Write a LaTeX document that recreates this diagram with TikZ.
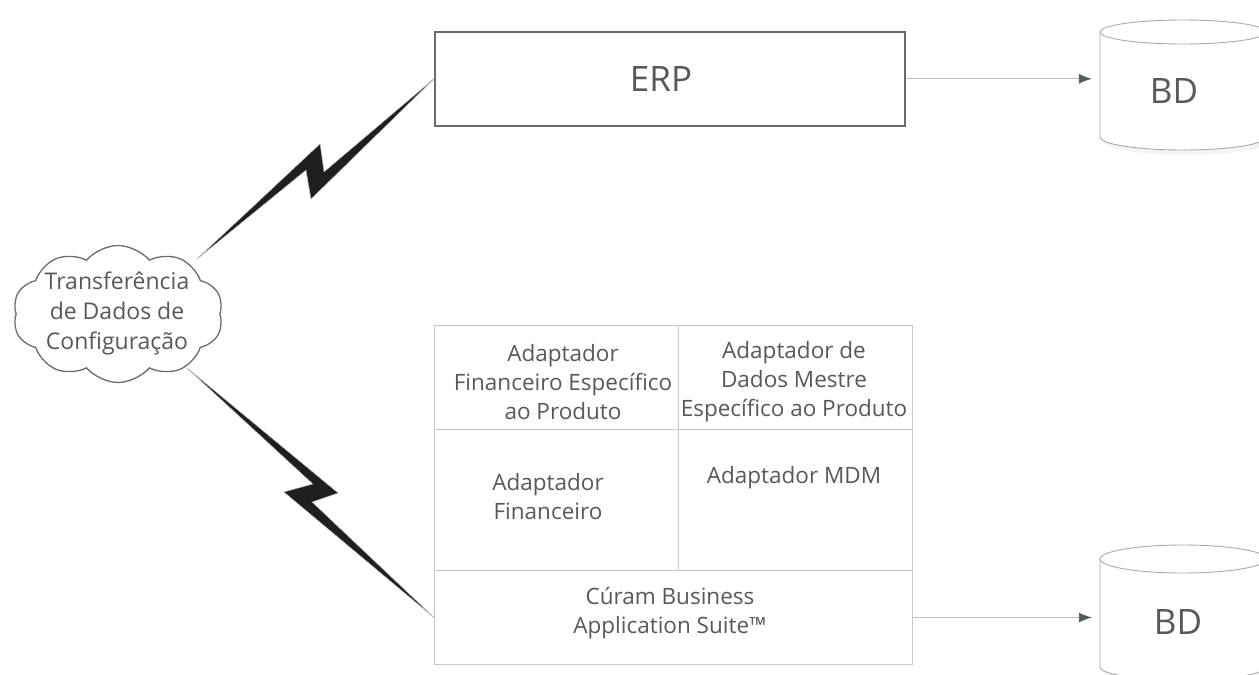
\documentclass[tikz,border=0pt]{standalone}
\usepackage{fontspec}
\setmainfont{Open Sans}
\usetikzlibrary{shapes.symbols,arrows.meta}
\definecolor{txt}{RGB}{86,89,93}
\definecolor{edge}{RGB}{105,108,112}
\definecolor{gridc}{RGB}{200,200,200}
\definecolor{arr}{RGB}{190,190,190}
\definecolor{head}{RGB}{85,90,95}
\definecolor{boltc}{RGB}{32,30,32}
\definecolor{cyl}{RGB}{170,170,170}
\begin{document}
\begin{tikzpicture}[x=1pt,y=-1pt,
  lbl/.style={text=txt, align=center, font=\fontsize{22.5}{29}\selectfont, inner sep=0},
  cloudlbl/.style={text=txt, align=center, font=\fontsize{23}{30}\selectfont, inner sep=0},
  big/.style={text=txt, font=\fontsize{35}{40}\selectfont, inner sep=0},
  cellbox/.style={draw=gridc, line width=1pt, anchor=north west, inner sep=0},
  erpbox/.style={draw=edge, line width=1.6pt, anchor=north west, inner sep=0},
  cylline/.style={draw=cyl, line width=0.9pt, fill=white},
  cylshadow/.style={fill=black, opacity=0.045},
  flow/.style={draw=arr, line width=0.9pt, -{Latex[length=13pt,width=10pt,color=head]}},
  boltfill/.style={fill=boltc, draw=gray!60, line width=0.4pt, line join=miter}
]
\useasboundingbox (0,0) rectangle (1259,675);
\fill[white] (0,0) rectangle (1259,675);

% cloud
\node[cloud, draw=edge, line width=1.3pt, cloud puffs=10, cloud puff arc=100, aspect=1.55,
      minimum width=210pt, minimum height=137pt, inner sep=0] (cl) at (118,314) {};
\node[cloudlbl] (cltxt) at (117,313) {Transferência\\de Dados de\\Configuração};

% ERP
\node[erpbox, minimum width=470pt, minimum height=94pt] (erp) at (434,31) {};
\node[big] (erptxt) at (661,79) {ERP};

% grid cells
\node[cellbox, minimum width=244pt, minimum height=104pt] (c1) at (434,325) {};
\node[cellbox, minimum width=234pt, minimum height=104pt] (c2) at (678,325) {};
\node[cellbox, minimum width=244pt, minimum height=141pt] (c3) at (434,429) {};
\node[cellbox, minimum width=234pt, minimum height=141pt] (c4) at (678,429) {};
\node[cellbox, minimum width=478pt, minimum height=94pt] (c5) at (434,570) {};

\node[lbl] (t1) at (563,382) {Adaptador\\Financeiro Específico\\ao Produto};
\node[lbl] (t2) at (794,382) {Adaptador de\\Dados Mestre\\Específico ao Produto};
\node[lbl] (t3) at (548,497) {Adaptador\\Financeiro};
\node[lbl] (t4) at (794,478) {Adaptador MDM};
\node[lbl] (t5) at (670,613) {Cúram Business\\Application Suite™};

% databases
\node[minimum width=166pt, minimum height=105pt, inner sep=0] (db1) at (1183,85) {};
\fill[cylshadow] (1103,40) -- (1103,141) arc[start angle=180,end angle=0,x radius=83,y radius=14] -- (1269,40) -- cycle;
\draw[cylline] (1100,32) -- (1100,137) arc[start angle=180,end angle=0,x radius=83,y radius=13] -- (1266,32);
\draw[cylline] (1183,32) ellipse[x radius=83, y radius=12];
\node[big] (bd1) at (1174,91) {BD};

\node[minimum width=166pt, minimum height=108pt, inner sep=0] (db2) at (1183,613) {};
\fill[cylshadow] (1103,567) -- (1103,671) arc[start angle=180,end angle=0,x radius=83,y radius=14] -- (1269,567) -- cycle;
\draw[cylline] (1100,559) -- (1100,667) arc[start angle=180,end angle=0,x radius=83,y radius=13] -- (1266,559);
\draw[cylline] (1183,559) ellipse[x radius=83, y radius=14];
\node[big] (bd2) at (1178,622) {BD};

% arrows
\draw[flow] (erp.east) -- ([xshift=-8pt]erp.east -| db1.west);
\draw[flow] (c5.east) -- ([xshift=-8pt]c5.east -| db2.west);

% lightning bolts
\coordinate (b1a) at (197,259);
\coordinate (b1d) at (erp.west);
\fill[boltfill] (b1a) -- (320,144) -- (324,172) -- (b1d) -- (311,199) -- (306,170) -- cycle;
\coordinate (b2a) at (187,368);
\coordinate (b2d) at (c5.west);
\fill[boltfill] (b2a) -- (338,493) -- (312,502) -- (b2d) -- (284,492) -- (313,484) -- cycle;
\end{tikzpicture}
\end{document}
